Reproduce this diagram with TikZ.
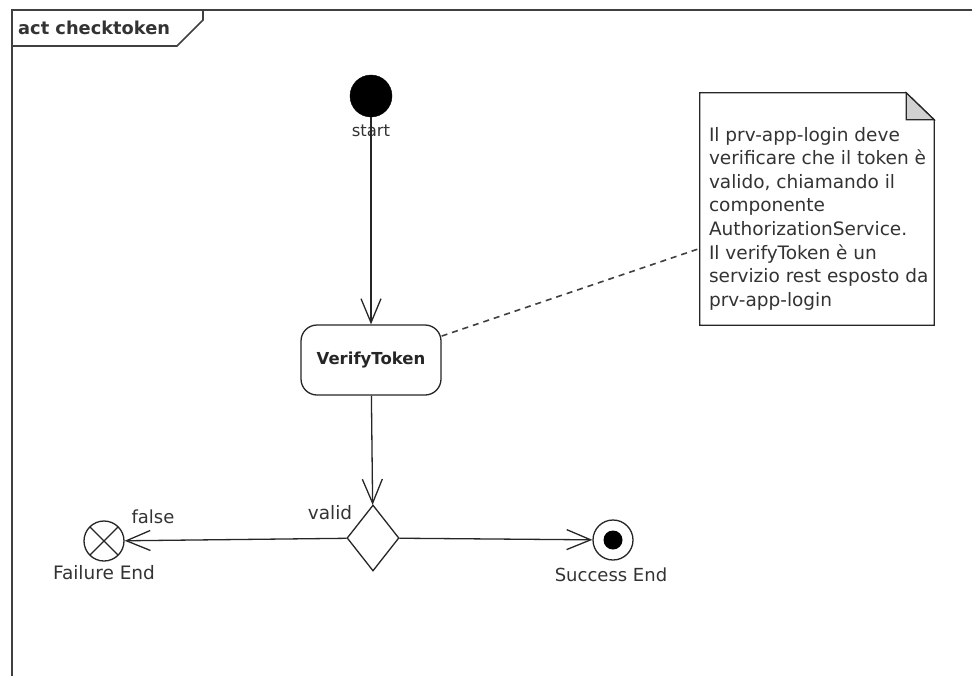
\documentclass[tikz,border=0pt]{standalone}
\usepackage{fontspec}
\setmainfont{DejaVu Sans}
\usetikzlibrary{arrows.meta,shapes.geometric}
\newcommand\dgmfont[1]{\fontsize{#1}{23.6}\selectfont}
\begin{document}
\begin{tikzpicture}[x=1pt,y=-1pt,
  ink/.style={draw=black!85, line width=1.3pt},
  framestyle/.style={draw=black!75, line width=2pt},
  txt/.style={text=black!80, inner sep=0pt},
  flow/.style={ink, -{Straight Barb[length=24pt,width=20pt]}},
  notelink/.style={draw=black!75, line width=1.6pt, dash pattern=on 6pt off 5pt},
  action/.style={ink, rectangle, rounded corners=16pt, minimum width=140pt,
    minimum height=70pt, inner sep=0pt, font=\dgmfont{16.5}\bfseries, text=black!85},
  decision/.style={ink, diamond, minimum width=52pt, minimum height=66pt, inner sep=0pt},
  initial/.style={circle, fill=black, draw=black, minimum size=42pt, inner sep=0pt},
  flowfinal/.style={ink, circle, minimum size=40pt, inner sep=0pt,
    path picture={
      \draw[black!85, line width=1.3pt]
        (path picture bounding box.south west) -- (path picture bounding box.north east)
        (path picture bounding box.north west) -- (path picture bounding box.south east);}},
  activityfinal/.style={ink, circle, minimum size=40pt, inner sep=0pt,
    path picture={\fill[black] (path picture bounding box.center) circle (9.5pt);}},
  notebox/.style={minimum width=234pt, minimum height=232pt, inner sep=0pt},
]
\useasboundingbox (0,0) rectangle (972,675);
\clip (0,0) rectangle (972,675);
\fill[white] (0,0) rectangle (972,675);

% activity frame and its name tab
\draw[framestyle] (12,690) -- (12,10) -- (990,10);
\draw[framestyle, line width=1.6pt] (12,46) -- (177,46) -- (203,20) -- (203,10);
\node[txt, anchor=west, font=\dgmfont{17.8}\bfseries] (title) at (18,28) {act checktoken};

% nodes
\node[initial] (start) at (371,96) {};
\node[txt, font=\dgmfont{16.5}] (startlbl) at (371,131) {start};
\node[action] (vt) at (371,360) {VerifyToken};
\node[decision] (dec) at (373,538) {};
\node[txt, font=\dgmfont{18.5}] (validlbl) at (330,513) {valid};
\node[flowfinal] (fail) at (104,541) {};
\node[txt, font=\dgmfont{18.5}] (faillbl) at (104,573) {Failure End};
\node[txt, font=\dgmfont{18}] (falselbl) at (153,517) {false};
\node[activityfinal] (succ) at (613,540) {};
\node[txt, font=\dgmfont{18}] (succlbl) at (611,575) {Success End};

% comment note with folded corner
\node[notebox] (note) at (817,209) {};
\draw[ink, line join=miter]
  (note.north west) -- ([xshift=-28pt]note.north east)
  -- ([yshift=-27pt]note.north east) -- (note.south east) -- (note.south west) -- cycle;
\filldraw[ink, fill=black!18, line join=miter]
  ([xshift=-28pt]note.north east) -- ([yshift=-27pt]note.north east)
  -- ([xshift=-28pt,yshift=-27pt]note.north east) -- cycle;
\node[txt, anchor=north west, align=left, font=\dgmfont{18.5}] (notetext)
  at ([xshift=9pt,yshift=-34pt]note.north west)
  {Il prv-app-login deve\\verificare che il token è\\valido, chiamando il\\componente\\AuthorizationService.\\Il verifyToken è un\\servizio rest esposto da\\prv-app-login};

% control flows
\draw[flow] (start) -- (vt);
\draw[flow] (vt) -- (dec);
\draw[flow] (dec) -- (fail);
\draw[flow] (dec) -- (succ);

% note attachment
\draw[notelink] (vt) -- (note);
\end{tikzpicture}
\end{document}
